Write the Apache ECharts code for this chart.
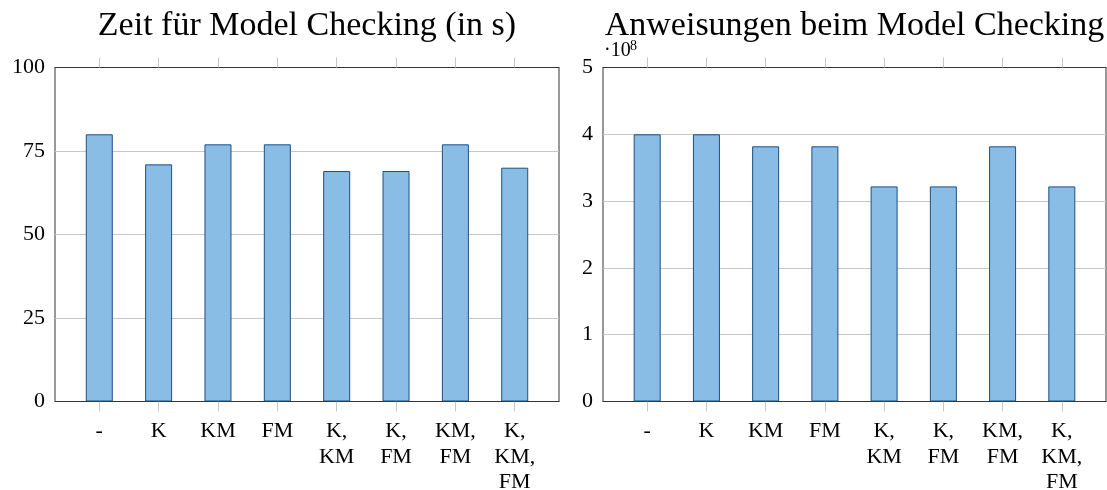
<!DOCTYPE html>
<html>
<head>
<meta charset="utf-8">
<script src="https://cdn.jsdelivr.net/npm/echarts@6/dist/echarts.min.js"></script>
<style>
  html, body { margin: 0; padding: 0; background: #fff; }
  #chart { width: 1107px; height: 490px; }
</style>
</head>
<body>
<div id="chart"></div>
<script>
// ---- data ----
const categories = ['-', 'K', 'KM', 'FM', 'K,\nKM', 'K,\nFM', 'KM,\nFM', 'K,\nKM,\nFM'];
const timeValues = [80, 71, 77, 77, 69, 69, 77, 70];                 // seconds
const instrValues = [4.0e8, 4.0e8, 3.82e8, 3.82e8, 3.22e8, 3.22e8, 3.82e8, 3.22e8]; // instructions
const timeTicks = [0, 25, 50, 75, 100];
const instrTicks = [0, 1e8, 2e8, 3e8, 4e8, 5e8];
const titles = ['Zeit für Model Checking (in s)', 'Anweisungen beim Model Checking'];

// ---- styling ----
const FONT = "'Liberation Serif', 'DejaVu Serif', serif";
const BAR_FILL = '#89bde6';
const BAR_EDGE = '#1d4f80';
const GRID_LINE = '#c6c6c6';
const BOX = '#333333';
const catIdx = categories.map((_, i) => i);
const PAD = 0.746;

const chart = echarts.init(document.getElementById('chart'), null, { renderer: 'canvas' });

function xAxes(gridIndex) {
  const common = {
    type: 'value', gridIndex: gridIndex, min: -PAD, max: categories.length - 1 + PAD,
    splitLine: { show: false },
    axisLine: { show: true, lineStyle: { color: BOX, width: 1 } },
    axisTick: { show: true, inside: false, length: 10, customValues: catIdx, lineStyle: { color: GRID_LINE, width: 1 } }
  };
  return [
    Object.assign({}, common, {
      position: 'bottom',
      axisLabel: {
        show: true, customValues: catIdx, margin: 17,
        formatter: v => categories[Math.round(v)],
        fontFamily: FONT, fontSize: 22, lineHeight: 25.5, color: '#000', align: 'center',
        hideOverlap: false
      }
    }),
    Object.assign({}, common, {
      position: 'top',
      axisLabel: { show: false }
    })
  ];
}

function yAxis(gridIndex, ticks, fmt) {
  return {
    type: 'value', gridIndex: gridIndex,
    min: ticks[0], max: ticks[ticks.length - 1], interval: ticks[1] - ticks[0],
    axisLine: { show: false }, axisTick: { show: false },
    splitLine: { show: true, lineStyle: { color: GRID_LINE, width: 1 } },
    axisLabel: { fontFamily: FONT, fontSize: 22, color: '#000', margin: 10, formatter: fmt }
  };
}

const gridCommon = { top: 67.5, height: 334, show: true, borderColor: BOX, borderWidth: 1, backgroundColor: 'transparent', containLabel: false, outerBoundsMode: 'none' };

const option = {
  animation: false,
  backgroundColor: '#fff',
  grid: [
    Object.assign({ left: 55, width: 504 }, gridCommon),
    Object.assign({ left: 603, width: 503 }, gridCommon)
  ],
  xAxis: xAxes(0).concat(xAxes(1)),
  yAxis: [
    yAxis(0, timeTicks, v => String(v)),
    yAxis(1, instrTicks, v => String(Math.round(v / 1e8)))
  ],
  series: [
    {
      type: 'bar', xAxisIndex: 0, yAxisIndex: 0, barWidth: 27,
      data: catIdx.map(i => [i, timeValues[i]]),
      itemStyle: { color: BAR_FILL, borderColor: BAR_EDGE, borderWidth: 1 }
    },
    {
      type: 'bar', xAxisIndex: 2, yAxisIndex: 1, barWidth: 27,
      data: catIdx.map(i => [i, instrValues[i]]),
      itemStyle: { color: BAR_FILL, borderColor: BAR_EDGE, borderWidth: 1 }
    }
  ],
  graphic: [
    { type: 'text', style: { x: 307, y: 26, text: titles[0], font: '34px ' + FONT, fill: '#000', textAlign: 'center', textVerticalAlign: 'middle' } },
    { type: 'text', style: { x: 854.5, y: 26, text: titles[1], font: '34px ' + FONT, fill: '#000', textAlign: 'center', textVerticalAlign: 'middle' } },
    { type: 'text', style: { x: 604, y: 51, text: '·10', font: '20px ' + FONT, fill: '#000', textAlign: 'left', textVerticalAlign: 'middle' } },
    { type: 'text', style: { x: 630, y: 46, text: '8', font: '14px ' + FONT, fill: '#000', textAlign: 'left', textVerticalAlign: 'middle' } }
  ]
};
chart.setOption(option);
</script>
</body>
</html>
